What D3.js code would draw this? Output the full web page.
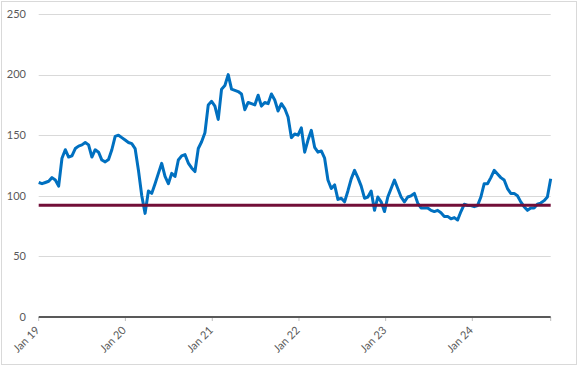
<!DOCTYPE html>
<html>
<head>
<meta charset="utf-8">
<script src="https://cdn.jsdelivr.net/npm/d3@7"></script>
<style>
  body { margin: 0; background: #fff; }
  svg { display: block; font-family: Lato, "Open Sans", sans-serif; }
</style>
</head>
<body>
<svg id="chart" width="578" height="367"></svg>
<script>
// fortnightly closes, first one on 1 Jan 2019
const startDate = "2019-01-01";
const stepDays = 14;
const prices = [
  111, 110, 111, 112, 115, 113, 108, 131, 138, 132,
  133, 139, 141, 142, 144, 142, 132, 138, 136, 129.5,
  128, 130, 138, 149, 150, 148, 146, 144, 143, 139,
  121, 100, 85.5, 104, 102, 110, 118.5, 126.8, 116, 110,
  118.5, 116, 129.5, 133, 134, 127, 123, 120, 139, 144.6,
  152, 175, 178, 174, 163, 188, 191, 200, 188, 187,
  186, 184, 171, 177, 176, 175, 183, 174, 177, 176,
  184, 179, 170, 176, 172, 165, 148, 151, 150, 156,
  136, 146, 154, 140, 136, 137, 131, 113, 106, 109,
  97, 98, 95, 104, 114, 121, 115, 108, 98, 99,
  104, 88, 99, 95, 87, 99, 106, 113, 106, 99,
  95, 99, 100, 102, 94, 90, 90, 90, 88, 87,
  88, 86, 83, 83, 81, 82, 80, 87, 93, 92,
  92, 91, 92, 99, 110, 110, 115, 121, 118, 115,
  113, 106, 102, 102, 100, 95, 91, 88, 90, 90,
  93, 94, 96, 99, 114
];
const threshold = 92.2;
const yTicks = [0, 50, 100, 150, 200, 250];
const xTickYears = [2019, 2020, 2021, 2022, 2023, 2024];
const xTickLabels = ["Jan 19", "Jan 20", "Jan 21", "Jan 22", "Jan 23", "Jan 24"];

const t0 = new Date(startDate + "T00:00:00");
const series = prices.map((v, i) => ({ date: d3.timeDay.offset(t0, i * stepDays), value: v }));

const svg = d3.select("#chart");
const plotLeft = 38.7, plotRight = 550.7, plotTop = 14, plotBottom = 317;

const x = d3.scaleTime()
  .domain(d3.extent(series, d => d.date))
  .range([plotLeft, plotRight]);
const y = d3.scaleLinear().domain([0, 250]).range([plotBottom, plotTop]);

// chart border
svg.append("rect")
  .attr("x", 1.5).attr("y", 1.5)
  .attr("width", 575).attr("height", 363)
  .attr("fill", "none").attr("stroke", "#d9d9d9");

// gridlines
svg.append("g").selectAll("line")
  .data(yTicks.filter(d => d > 0))
  .join("line")
  .attr("x1", plotLeft).attr("x2", plotRight)
  .attr("y1", d => Math.round(y(d)) + 0.5).attr("y2", d => Math.round(y(d)) + 0.5)
  .attr("stroke", "#d9d9d9");

// y labels
svg.append("g").selectAll("text")
  .data(yTicks)
  .join("text")
  .attr("x", 26).attr("y", d => y(d))
  .attr("dy", "0.35em")
  .attr("text-anchor", "end")
  .attr("font-size", 11)
  .attr("fill", "#595959")
  .text(d => d);

// x axis ticks + rotated labels
const tickDates = xTickYears.map(yr => new Date(yr, 0, 1));
const tx = d => Math.max(plotLeft, x(d));
svg.append("g").selectAll("line")
  .data(tickDates.concat([x.domain()[1]]))
  .join("line")
  .attr("x1", d => tx(d)).attr("x2", d => tx(d))
  .attr("y1", plotBottom).attr("y2", plotBottom + 4)
  .attr("stroke", "#bfbfbf");

svg.append("g").selectAll("text")
  .data(tickDates)
  .join("text")
  .attr("transform", d => `translate(${tx(d) + 1.5},${plotBottom + 14}) rotate(-45)`)
  .attr("text-anchor", "end")
  .attr("font-size", 11)
  .attr("fill", "#595959")
  .text((d, i) => xTickLabels[i]);

// zero axis line
svg.append("line")
  .attr("x1", plotLeft).attr("x2", plotRight)
  .attr("y1", y(0)).attr("y2", y(0))
  .attr("stroke", "#595959").attr("stroke-width", 2);

// price line
const line = d3.line().x(d => x(d.date)).y(d => y(d.value));
svg.append("path")
  .datum(series)
  .attr("d", line)
  .attr("fill", "none")
  .attr("stroke", "#0070c0")
  .attr("stroke-width", 3)
  .attr("stroke-linejoin", "round");

// threshold line
svg.append("line")
  .attr("x1", plotLeft).attr("x2", plotRight)
  .attr("y1", y(threshold)).attr("y2", y(threshold))
  .attr("stroke", "#720f38").attr("stroke-width", 3);
</script>
</body>
</html>
